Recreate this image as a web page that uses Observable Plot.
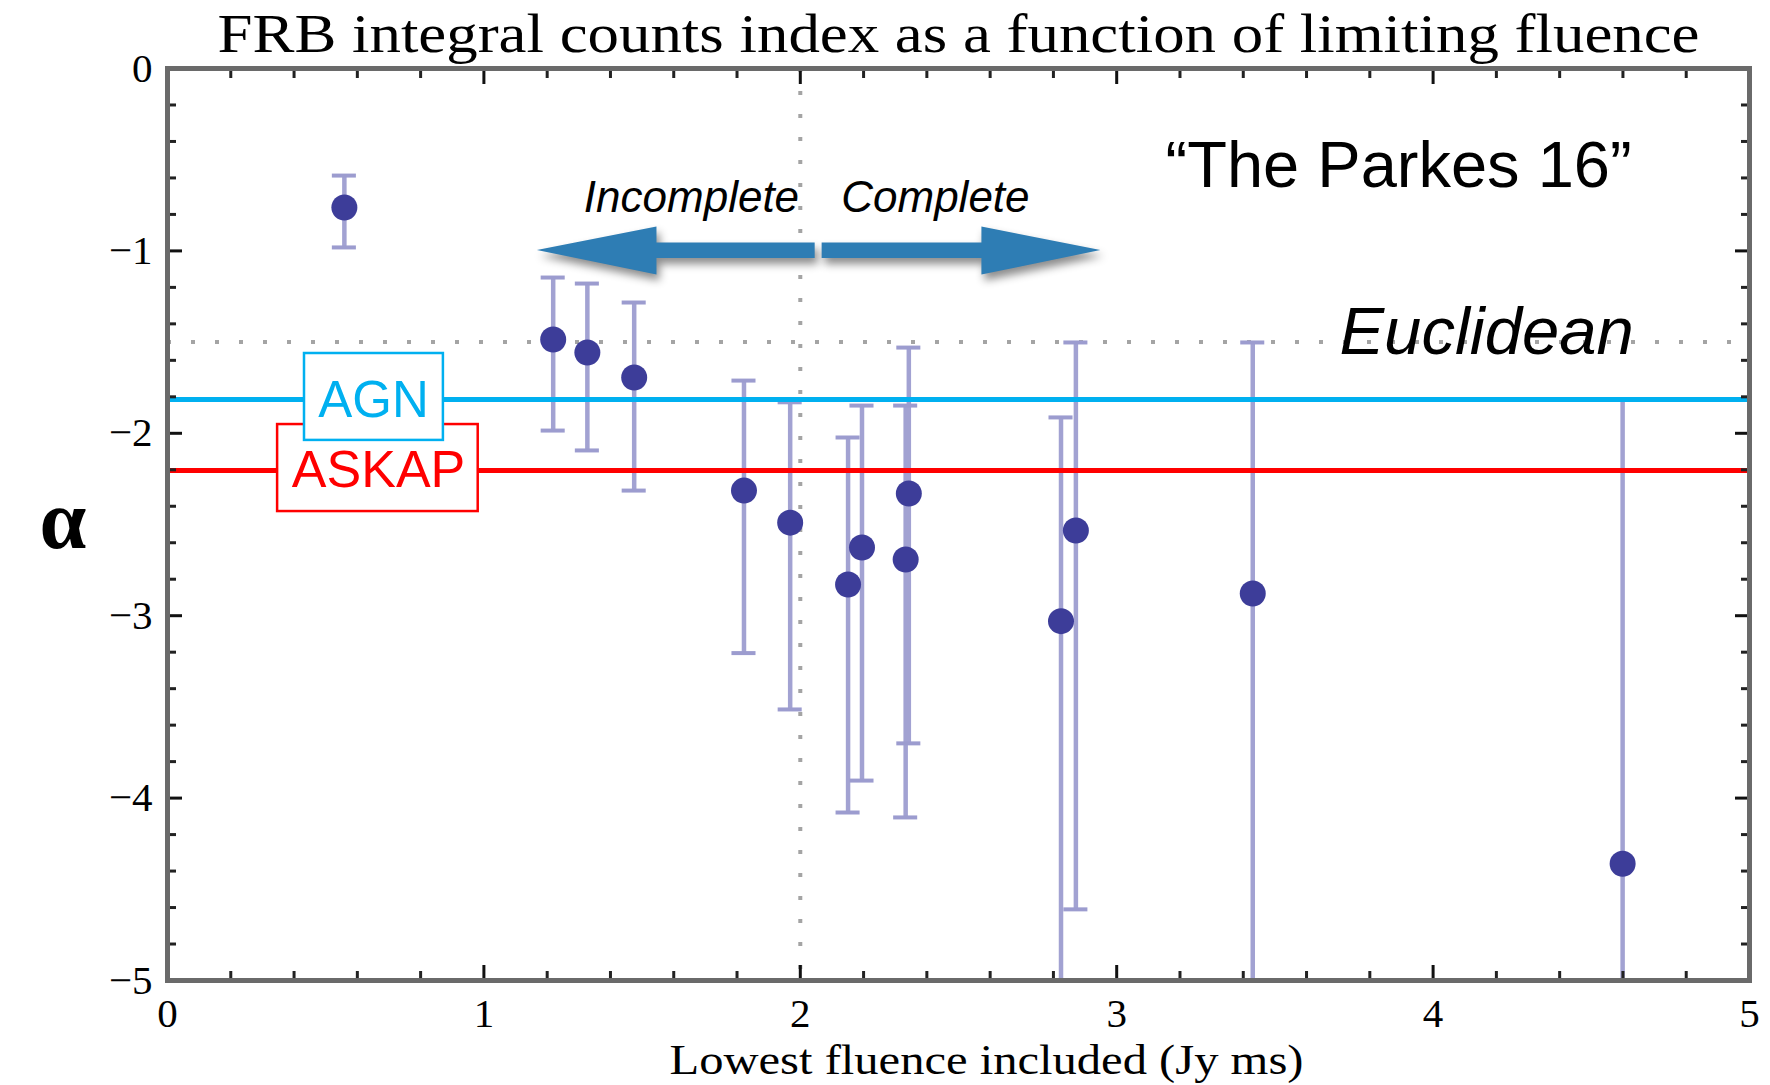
<!DOCTYPE html>
<html>
<head>
<meta charset="utf-8">
<script src="https://cdn.jsdelivr.net/npm/d3@7"></script>
<script src="https://cdn.jsdelivr.net/npm/@observablehq/plot@0.6"></script>
<style>
  html, body { margin: 0; padding: 0; background: #fff; }
  #chart svg { display: block; }
</style>
</head>
<body>
<div id="chart"></div>
<script>
// ---- Data ----
const fluence   = [0.559, 1.219, 1.327, 1.475, 1.822, 1.968, 2.151, 2.195, 2.343, 2.333, 2.824, 2.871, 3.430, 4.599];
const alpha     = [-0.762, -1.486, -1.557, -1.694, -2.314, -2.490, -2.829, -2.626, -2.330, -2.692, -3.030, -2.533, -2.878, -4.360];
const alphaHigh = [-0.587, -1.146, -1.179, -1.283, -1.711, -1.830, -2.023, -1.848, -1.530, -1.848, -1.913, -1.502, -1.502, -1.815];
const alphaLow  = [-0.981, -1.985, -2.094, -2.314, -3.205, -3.514, -4.079, -3.904, -3.700, -4.106, -5.600, -4.610, -5.600, -5.600];

const euclideanAlpha = [-1.5];
const agnAlpha = [-1.815];
const askapAlpha = [-2.204];
const completenessFluence = [2.0];

const xMajorTicks = [0, 1, 2, 3, 4, 5];
const yMajorTicks = [0, -1, -2, -3, -4, -5];
const xMinorTicks = d3.range(1, 25).filter(i => i % 5).map(i => i / 5);
const yMinorTicks = d3.range(1, 25).filter(i => i % 5).map(i => -i / 5);

const titleText = "FRB integral counts index as a function of limiting fluence";
const xLabelText = "Lowest fluence included (Jy ms)";

// annotation geometry (data units)
const arrowLeft  = [
  {x: 1.169, top: -0.998, bottom: -0.998},
  {x: 1.547, top: -0.869, bottom: -1.132},
  {x: 1.547, top: -0.957, bottom: -1.042},
  {x: 2.047, top: -0.957, bottom: -1.042}
];
const arrowRight = [
  {x: 2.069, top: -0.957, bottom: -1.042},
  {x: 2.574, top: -0.957, bottom: -1.042},
  {x: 2.574, top: -0.869, bottom: -1.132},
  {x: 2.950, top: -0.998, bottom: -0.998}
];
const askapBox = [{x1: 0.348, x2: 0.982, y1: -1.952, y2: -2.429}];
const agnBox   = [{x1: 0.433, x2: 0.872, y1: -1.5625, y2: -2.039}];

// ---- Tables built from the arrays ----
const points = fluence.map((f, i) => ({fluence: f, alpha: alpha[i], hi: alphaHigh[i], lo: alphaLow[i]}));
const caps = points.flatMap(p => [p.hi, p.lo].filter(v => v >= -5).map(v => ({fluence: p.fluence, v})));
const capHalf = 0.038;

const serif = "Liberation Serif, Times New Roman, serif";
const sans = "Liberation Sans, Arial, Helvetica, sans-serif";

const chart = Plot.plot({
  width: 1770,
  height: 1085,
  marginLeft: 167,
  marginRight: 21,
  marginTop: 68,
  marginBottom: 105,
  style: {background: "#fff", fontFamily: sans},
  x: {domain: [0, 5], label: null},
  y: {domain: [-5, 0], label: null},
  marks: [
    // reference dotted lines
    Plot.ruleX(completenessFluence, {x: d => d, stroke: "#a4a4a4", strokeWidth: 4, strokeDasharray: "4,19"}),
    Plot.ruleY(euclideanAlpha, {y: d => d, stroke: "#a4a4a4", strokeWidth: 4, strokeDasharray: "4,20"}),
    // error bars
    Plot.ruleX(points, {x: "fluence", y1: "lo", y2: "hi", stroke: "#a2a2d2", strokeWidth: 4.5, clip: true}),
    Plot.ruleY(caps, {y: "v", x1: d => d.fluence - capHalf, x2: d => d.fluence + capHalf, stroke: "#9c9ccf", strokeWidth: 4}),
    // model lines
    Plot.ruleY(agnAlpha, {y: d => d, stroke: "#00b0f0", strokeWidth: 5}),
    Plot.ruleY(askapAlpha, {y: d => d, stroke: "#ff0000", strokeWidth: 5}),
    // points
    Plot.dot(points, {x: "fluence", y: "alpha", r: 13, fill: "#3d3d99", stroke: "none"}),
    // label boxes
    Plot.rect(askapBox, {x1: "x1", x2: "x2", y1: "y1", y2: "y2", fill: "white", stroke: "#ff0000", strokeWidth: 2.5}),
    Plot.rect(agnBox, {x1: "x1", x2: "x2", y1: "y1", y2: "y2", fill: "white", stroke: "#00b0f0", strokeWidth: 2.5}),
    Plot.text(["AGN"], {x: 0.651, y: -1.913, text: d => d, fill: "#00b0f0", fontSize: 51, fontFamily: sans, textAnchor: "middle", lineAnchor: "bottom"}),
    Plot.text(["ASKAP"], {x: 0.667, y: -2.297, text: d => d, fill: "#ff0000", fontSize: 52, fontFamily: sans, textAnchor: "middle", lineAnchor: "bottom"}),
    // completeness arrows
    Plot.area(arrowLeft, {x1: "x", y1: "top", y2: "bottom", fill: "#2e7db4", curve: "linear", imageFilter: "drop-shadow(3px 6px 4px rgba(0,0,0,0.45))"}),
    Plot.area(arrowRight, {x1: "x", y1: "top", y2: "bottom", fill: "#2e7db4", curve: "linear", imageFilter: "drop-shadow(3px 6px 4px rgba(0,0,0,0.45))"}),
    Plot.text(["Incomplete"], {x: 1.656, y: -0.789, text: d => d, fill: "#000", fontSize: 44, fontStyle: "italic", fontFamily: sans, textAnchor: "middle", lineAnchor: "bottom"}),
    Plot.text(["Complete"], {x: 2.427, y: -0.789, text: d => d, fill: "#000", fontSize: 44, fontStyle: "italic", fontFamily: sans, textAnchor: "middle", lineAnchor: "bottom"}),
    Plot.text(["\u201CThe Parkes 16\u201D"], {x: 3.891, y: -0.652, text: d => d, fill: "#000", fontSize: 65, fontFamily: sans, textAnchor: "middle", lineAnchor: "bottom"}),
    Plot.text(["Euclidean"], {x: 4.169, y: -1.5625, text: d => d, fill: "#000", fontSize: 67, fontStyle: "italic", fontFamily: sans, textAnchor: "middle", lineAnchor: "bottom"}),
    // ticks (inward) on all four sides
    Plot.axisX(xMinorTicks, {anchor: "bottom", tickSize: -9, strokeWidth: 3, stroke: "#222", tickFormat: () => "", label: null}),
    Plot.axisX(xMajorTicks, {anchor: "bottom", tickSize: -15, strokeWidth: 3, stroke: "#111", tickFormat: () => "", label: null}),
    Plot.axisX(xMinorTicks, {anchor: "top", tickSize: -9, strokeWidth: 3, stroke: "#222", tickFormat: () => "", label: null}),
    Plot.axisX(xMajorTicks, {anchor: "top", tickSize: -15, strokeWidth: 3, stroke: "#111", tickFormat: () => "", label: null}),
    Plot.axisY(yMinorTicks, {anchor: "left", tickSize: -9, strokeWidth: 3, stroke: "#222", tickFormat: () => "", label: null}),
    Plot.axisY(yMajorTicks, {anchor: "left", tickSize: -15, strokeWidth: 3, stroke: "#111", tickFormat: () => "", label: null}),
    Plot.axisY(yMinorTicks, {anchor: "right", tickSize: -9, strokeWidth: 3, stroke: "#222", tickFormat: () => "", label: null}),
    Plot.axisY(yMajorTicks, {anchor: "right", tickSize: -15, strokeWidth: 3, stroke: "#111", tickFormat: () => "", label: null}),
    // tick labels
    Plot.axisX(xMajorTicks, {anchor: "bottom", tickSize: 0, tickPadding: 17, fontSize: 41, fontFamily: serif, fill: "#000", tickFormat: d3.format("d"), label: null}),
    Plot.axisY(yMajorTicks, {anchor: "left", tickSize: 0, tickPadding: 15, fontSize: 41, fontFamily: serif, fill: "#000", tickFormat: d3.format("d"), label: null}),
    Plot.frame({stroke: "#6a6a6a", strokeWidth: 5}),
    // title & axis labels
    Plot.text([titleText], {frameAnchor: "top", text: d => d, dy: -17, lineAnchor: "bottom", fontSize: 54, fontFamily: serif, fill: "#000"}),
    Plot.text([xLabelText], {frameAnchor: "bottom", text: d => d, dx: 28, dy: 93, lineAnchor: "bottom", fontSize: 42, fontFamily: serif, fill: "#000"}),
    Plot.text(["\u03B1"], {frameAnchor: "left", text: d => d, dx: -128, dy: -3, lineAnchor: "middle", fontSize: 84, fontWeight: "bold", fontFamily: serif, fill: "#000"})
  ]
});

// stretch the serif title and axis label horizontally like the reference
d3.select(chart).selectAll("text").each(function () {
  const t = this.textContent;
  if (t === titleText) d3.select(this).attr("textLength", 1482).attr("lengthAdjust", "spacingAndGlyphs");
  if (t === xLabelText) d3.select(this).attr("textLength", 634).attr("lengthAdjust", "spacingAndGlyphs");
});

document.getElementById("chart").appendChild(chart);
</script>
</body>
</html>
